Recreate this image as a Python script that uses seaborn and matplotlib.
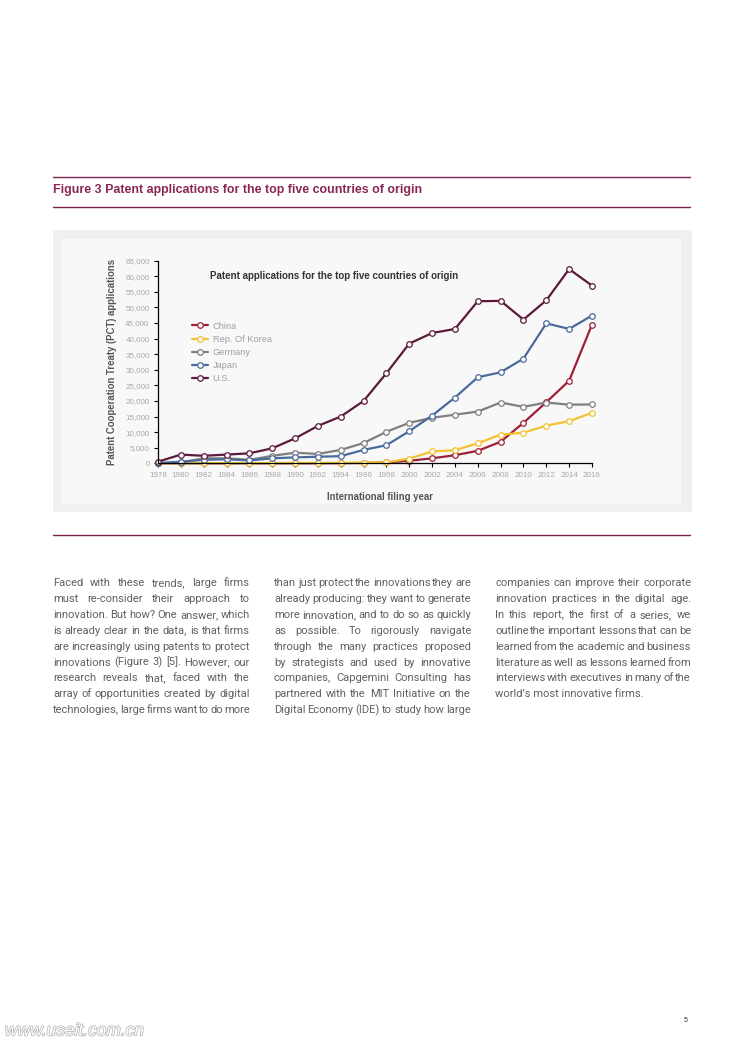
import pandas as pd
import numpy as np
import matplotlib
matplotlib.use('Agg')
import matplotlib.pyplot as plt
import matplotlib.patheffects as pe
from matplotlib.patches import Rectangle
from matplotlib.ticker import FuncFormatter
import seaborn as sns

# data
years = [1978, 1980, 1982, 1984, 1986, 1988, 1990, 1992, 1994, 1996,
         1998, 2000, 2002, 2004, 2006, 2008, 2010, 2012, 2014, 2016]
china = [0, 0, 0, 0, 0, 0, 0, 0, 50, 100,
         300, 800, 1600, 2600, 4000, 6900, 13000, 19600, 26500, 44500]
korea = [0, 0, 50, 50, 50, 100, 100, 100, 150, 200,
         300, 1500, 3800, 4200, 6400, 9200, 9800, 12100, 13500, 16200]
germany = [0, 300, 1600, 1600, 1100, 2400, 3400, 3000, 4300, 6500,
           10100, 13000, 14600, 15600, 16600, 19500, 18100, 19500, 18800, 18900]
japan = [100, 500, 1100, 1300, 900, 1600, 1900, 2100, 2300, 4300,
         5800, 10300, 15300, 21100, 27600, 29200, 33600, 44900, 43100, 47400]
us = [500, 2800, 2400, 2800, 3200, 4800, 8000, 12000, 15000, 20000,
      28900, 38400, 41800, 43100, 52000, 52100, 46100, 52300, 62300, 57000]

countries = ['China', 'Rep. Of Korea', 'Germany', 'Japan', 'U.S.']
series = [china, korea, germany, japan, us]
palette = {'China': '#9e1f36', 'Rep. Of Korea': '#f2c230', 'Germany': '#7f7f7f',
           'Japan': '#4b6a9b', 'U.S.': '#5b1a3c'}

rows = []
for name, vals in zip(countries, series):
    for yr, v in zip(years, vals):
        rows.append({'year': yr, 'applications': v, 'country': name})
df = pd.DataFrame(rows)

col1 = ["Faced with these trends, large firms",
        "must re-consider their approach to",
        "innovation. But how? One answer, which",
        "is already clear in the data, is that firms",
        "are increasingly using patents to protect",
        "innovations (Figure 3) [5]. However, our",
        "research reveals that, faced with the",
        "array of opportunities created by digital",
        "technologies, large firms want to do more"]
col2 = ["than just protect the innovations they are",
        "already producing: they want to generate",
        "more innovation, and to do so as quickly",
        "as possible. To rigorously navigate",
        "through the many practices proposed",
        "by strategists and used by innovative",
        "companies, Capgemini Consulting has",
        "partnered with the MIT Initiative on the",
        "Digital Economy (IDE) to study how large"]
col3 = ["companies can improve their corporate",
        "innovation practices in the digital age.",
        "In this report, the first of a series, we",
        "outline the important lessons that can be",
        "learned from the academic and business",
        "literature as well as lessons learned from",
        "interviews with executives in many of the",
        "world\u2019s most innovative firms."]

W, H = 744, 1052
sns.set_theme(style="white")
plt.rcParams['font.family'] = ['Liberation Sans', 'DejaVu Sans']

fig = plt.figure(figsize=(W / 100, H / 100), dpi=100)
fig.patch.set_facecolor('white')

def fx(x):
    return x / W

def fy(y):
    return 1 - y / H

maroon = '#7d2250'

# header rules and figure title
for yy in [177, 207, 535]:
    fig.add_artist(plt.Line2D([fx(53), fx(690)], [fy(yy), fy(yy)], color=maroon, lw=1.0))
fig.text(fx(53), fy(190), 'Figure 3 Patent applications for the top five countries of origin',
         color='#8a2657', fontsize=8.9, fontweight='bold', va='center', ha='left')

# grey panels
fig.add_artist(Rectangle((fx(53), fy(511.5)), fx(691.5) - fx(53), fy(230) - fy(511.5),
                         transform=fig.transFigure, facecolor='#f0f0f0', edgecolor='none', zorder=0))
fig.add_artist(Rectangle((fx(62.5), fy(504)), fx(681) - fx(62.5), fy(239) - fy(504),
                         transform=fig.transFigure, facecolor='#f8f8f8', edgecolor='none', zorder=0))

ax = fig.add_axes([fx(158), fy(463.3), fx(592) - fx(158), fy(260.7) - fy(463.3)])
ax.set_facecolor('none')

sns.lineplot(data=df, x='year', y='applications', hue='country', hue_order=countries,
             palette=palette, marker='o', markersize=4, linewidth=1.6, legend=False, ax=ax)
for line in ax.lines:
    line.set_markerfacecolor('white')
    line.set_markeredgecolor(line.get_color())
    line.set_markeredgewidth(0.9)
    line.set_clip_on(False)

ax.set_xlim(1978, 2016)
ax.set_ylim(0, 65000)
ax.set_xticks(years)
ax.set_yticks(np.arange(0, 65001, 5000))
ax.yaxis.set_major_formatter(FuncFormatter(lambda v, p: f'{int(v):,}'))
ax.tick_params(axis='both', labelsize=5.8, labelcolor='#a8a8a8', length=3, width=0.8,
               color='black', direction='out', pad=3)
ax.tick_params(axis='y', left=True)
ax.tick_params(axis='x', bottom=True)
for s in ['top', 'right']:
    ax.spines[s].set_visible(False)
for s in ['left', 'bottom']:
    ax.spines[s].set_color('black')
    ax.spines[s].set_linewidth(0.9)
ax.set_xlabel('')
ax.set_ylabel('')

fig.text(fx(112), fy(362), 'Patent Cooperation Treaty (PCT) applications', rotation=90,
         fontsize=6.9, fontweight='bold', color='#555555', va='center', ha='center')
fig.text(fx(380), fy(497), 'International filing year', fontsize=6.9, fontweight='bold',
         color='#555555', va='center', ha='center')
fig.text(fx(210), fy(276), 'Patent applications for the top five countries of origin',
         fontsize=7.0, fontweight='bold', color='#333333', va='center', ha='left')

leg = ax.legend(handles=ax.lines, labels=countries, loc='upper left',
                bbox_to_anchor=(fx(187), fy(317)), bbox_transform=fig.transFigure,
                frameon=False, fontsize=6.7, handlelength=1.8, handletextpad=0.45,
                labelspacing=0.45, borderpad=0)
for t in leg.get_texts():
    t.set_color('#a0a0a0')

# body text, justified columns
renderer = fig.canvas.get_renderer()
style = dict(fontsize=8.0, color='#606060', va='baseline', ha='left',
             family=['Roboto', 'Liberation Sans'])

def put_line(text, x0, x1, y, justify):
    if not justify:
        fig.text(fx(x0), fy(y), text, **style)
        return
    words = text.split(' ')
    widths = []
    for w in words:
        t = fig.text(0, 0, w, **style)
        widths.append(t.get_window_extent(renderer).width)
        t.remove()
    gap = (x1 - x0 - sum(widths)) / (len(words) - 1)
    x = x0
    for w, wd in zip(words, widths):
        fig.text(fx(x), fy(y), w, **style)
        x += wd + gap

for lines, x0, x1, last_plain in [(col1, 53, 250, False), (col2, 274, 471, False),
                                  (col3, 495, 691, True)]:
    for i, ln in enumerate(lines):
        plain = last_plain and i == len(lines) - 1
        put_line(ln, x0, x1, 586 + i * 15.9, not plain)

fig.text(fx(686), fy(1020), '5', fontsize=5, color='#333333', va='center', ha='center')
fig.text(fx(5), fy(1031), 'www.useit.com.cn', fontsize=12.5, color='white', va='center',
         ha='left', fontstyle='italic',
         path_effects=[pe.withStroke(linewidth=1.0, foreground='#b0b0b0')])

fig.savefig('out.png', dpi=100)
